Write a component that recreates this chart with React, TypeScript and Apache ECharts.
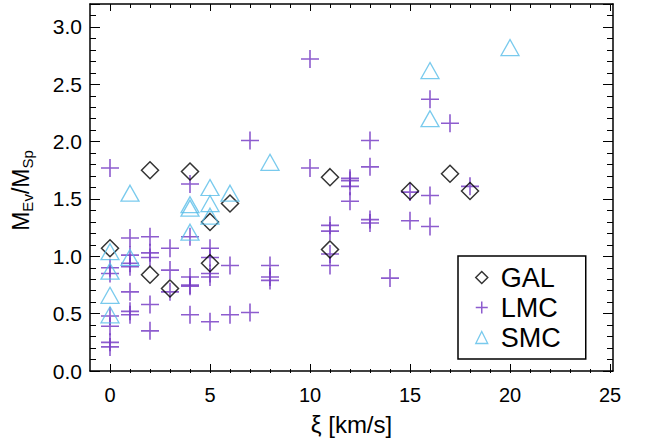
import { useEffect, useRef } from "react";
import * as echarts from "echarts";

// [xi (km/s), M_Ev / M_Sp]
const galPoints: [number, number][] = [
  [0, 1.07], [2, 1.75], [2, 0.84], [3, 0.72], [4, 1.74], [5, 1.3], [5, 0.94],
  [6, 1.46], [11, 1.69], [11, 1.06], [15, 1.57], [17, 1.72], [18, 1.57],
];

const lmcPoints: [number, number][] = [
  [0, 1.77], [0, 0.9], [0, 0.85], [0, 0.48], [0, 0.39], [0, 0.25], [0, 0.21],
  [1, 1.16], [1, 1.01], [1, 0.94], [1, 0.91], [1, 0.69], [1, 0.52], [1, 0.49],
  [2, 1.17], [2, 1.03], [2, 0.99], [2, 0.58], [2, 0.35],
  [3, 1.07], [3, 0.88], [3, 0.69],
  [4, 1.63], [4, 1.17], [4, 0.82], [4, 0.75], [4, 0.74], [4, 0.49],
  [5, 1.07], [5, 0.99], [5, 0.85], [5, 0.82], [5, 0.43],
  [6, 0.92], [6, 0.49],
  [7, 2.01], [7, 0.51],
  [8, 0.92], [8, 0.82], [8, 0.79],
  [10, 2.72], [10, 1.77],
  [11, 1.27], [11, 1.22], [11, 1.02], [11, 0.92],
  [12, 1.68], [12, 1.66], [12, 1.61], [12, 1.48],
  [13, 2.01], [13, 1.78], [13, 1.32], [13, 1.29],
  [14, 0.81],
  [15, 1.56], [15, 1.31],
  [16, 2.37], [16, 1.53], [16, 1.26],
  [17, 2.16],
  [18, 1.61],
];

const smcPoints: [number, number][] = [
  [0, 1.04], [0, 0.87], [0, 0.66], [0, 0.49], [1, 1.55], [1, 0.99],
  [4, 1.45], [4, 1.42], [4, 1.21], [5, 1.6], [5, 1.46], [5, 1.35], [6, 1.55],
  [8, 1.82], [16, 2.62], [16, 2.2], [20, 2.82],
];

const xMajorTicks = [0, 5, 10, 15, 20, 25];
const xMinorTicks = Array.from({ length: 26 }, (_, i) => i);

const FONT = "Liberation Sans";
const PURPLE = "#7033c2";
const CYAN = "#58bde9";
const PLUS = "path://M5,0L5,10M0,5L10,5";
const CLEAR = "rgba(0,0,0,0)";

export default function App() {
  const ref = useRef<HTMLDivElement>(null);

  useEffect(() => {
    if (!ref.current) return;
    const chart = echarts.init(ref.current, undefined, { renderer: "svg" });

    const frame = { show: true, onZero: false, lineStyle: { color: "#000", width: 1.5 } };
    const xBase = { type: "value", min: -1, max: 25.15, splitLine: { show: false } };
    const yBase = {
      type: "value",
      min: 0,
      max: 3.2,
      interval: 0.5,
      splitLine: { show: false },
      axisLine: frame,
      axisTick: { inside: true, length: 10, lineStyle: { color: "#000" } },
      minorTick: { show: true, splitNumber: 5, length: 6, lineStyle: { color: "#000" } },
    };

    chart.setOption({
      animation: false,
      backgroundColor: "#fff",
      grid: [
        { left: 90, right: 35, top: 4, bottom: 68 },
        { left: 90, right: 35, top: 4, bottom: 68 },
      ],
      xAxis: [
        {
          ...xBase,
          gridIndex: 0,
          position: "bottom",
          axisLine: frame,
          axisTick: { inside: true, length: 7, customValues: xMajorTicks, lineStyle: { color: "#000" } },
          axisLabel: { customValues: xMajorTicks, margin: 14, fontSize: 20, color: "#000", fontFamily: FONT },
          name: "ξ [km/s]",
          nameLocation: "middle",
          nameGap: 41,
          nameTextStyle: { fontSize: 24, color: "#000", fontFamily: FONT },
        },
        {
          ...xBase,
          gridIndex: 0,
          position: "top",
          axisLine: frame,
          axisTick: { inside: true, length: 7, customValues: xMajorTicks, lineStyle: { color: "#000" } },
          axisLabel: { show: false },
        },
        {
          ...xBase,
          gridIndex: 1,
          position: "bottom",
          axisLine: { show: false },
          axisTick: { inside: true, length: 4, customValues: xMinorTicks, lineStyle: { color: "#000" } },
          axisLabel: { show: false },
        },
        {
          ...xBase,
          gridIndex: 1,
          position: "top",
          axisLine: { show: false },
          axisTick: { inside: true, length: 4, customValues: xMinorTicks, lineStyle: { color: "#000" } },
          axisLabel: { show: false },
        },
      ],
      yAxis: [
        {
          ...yBase,
          gridIndex: 0,
          position: "left",
          axisLabel: {
            margin: 8,
            fontSize: 21,
            color: "#000",
            fontFamily: FONT,
            showMaxLabel: false,
            formatter: (v: number) => v.toFixed(1),
          },
          name: "{a|M}{b|Ev}{a|/M}{b|Sp}",
          nameLocation: "middle",
          nameGap: 55,
          nameTextStyle: {
            color: "#000",
            fontFamily: FONT,
            padding: [0, 6, 0, 0],
            rich: {
              a: { fontSize: 23, lineHeight: 28, fontFamily: FONT, color: "#000" },
              b: { fontSize: 15, lineHeight: 15, verticalAlign: "bottom", fontFamily: FONT, color: "#000" },
            },
          },
        },
        { ...yBase, gridIndex: 0, position: "right", axisLabel: { show: false } },
        { type: "value", gridIndex: 1, min: 0, max: 3.2, show: false },
      ],
      legend: {
        orient: "vertical",
        left: 458,
        top: 256,
        padding: [8, 25, 8, 17],
        itemGap: 3,
        itemWidth: 12,
        itemHeight: 12,
        borderColor: "#000",
        borderWidth: 1.5,
        selectedMode: false,
        textStyle: { fontSize: 27, color: "#000", fontFamily: FONT, padding: [0, 0, 0, 8] },
        data: [
          { name: "GAL", itemStyle: { color: CLEAR, borderColor: "#000", borderWidth: 1.5 } },
          { name: "LMC", itemStyle: { color: CLEAR, borderColor: PURPLE, borderWidth: 1.5 } },
          { name: "SMC", itemStyle: { color: CLEAR, borderColor: CYAN, borderWidth: 1.3 } },
        ],
      },
      series: [
        {
          name: "LMC",
          type: "scatter",
          xAxisIndex: 0,
          yAxisIndex: 0,
          symbol: PLUS,
          symbolSize: 18,
          itemStyle: { color: CLEAR, borderColor: PURPLE, borderWidth: 1.6 },
          data: lmcPoints,
        },
        {
          name: "GAL",
          type: "scatter",
          xAxisIndex: 0,
          yAxisIndex: 0,
          symbol: "diamond",
          symbolSize: 17,
          itemStyle: { color: CLEAR, borderColor: "#000", borderWidth: 1.5 },
          data: galPoints,
        },
        {
          name: "SMC",
          type: "scatter",
          xAxisIndex: 0,
          yAxisIndex: 0,
          symbol: "triangle",
          symbolSize: [18, 16],
          itemStyle: { color: CLEAR, borderColor: CYAN, borderWidth: 1.3 },
          data: smcPoints,
        },
      ],
    });

    return () => chart.dispose();
  }, []);

  return (
    <div
      ref={ref}
      style={{ position: "fixed", left: 0, top: 0, width: 648, height: 441, background: "#fff" }}
    />
  );
}
